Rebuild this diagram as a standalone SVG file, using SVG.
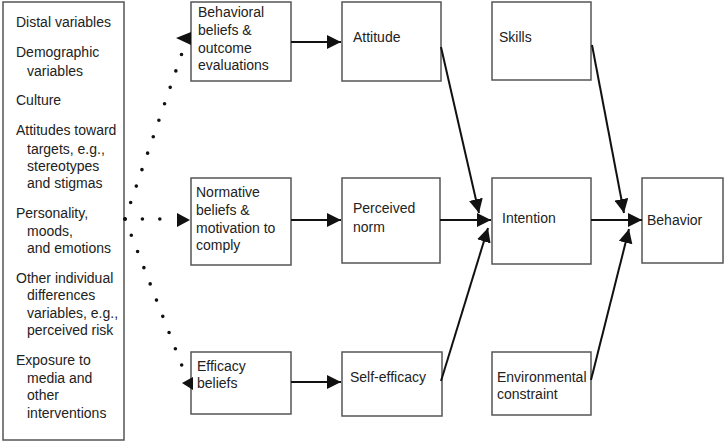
<svg xmlns="http://www.w3.org/2000/svg" width="725" height="442" viewBox="0 0 725 442">
<defs>
<style>
.box{fill:#fff;stroke:#555;stroke-width:1.5}
.t{font-family:"Liberation Sans",Arial,sans-serif;font-size:14px;fill:#222}
.ln{fill:none;stroke:#111;stroke-width:2}
.dot{fill:none;stroke:#111;stroke-width:3.6;stroke-linecap:round;stroke-dasharray:0 17.4}
.ah{fill:#111}
</style>
<marker id="arr" viewBox="0 0 14 14" refX="14" refY="7" markerWidth="14" markerHeight="14" markerUnits="userSpaceOnUse" orient="auto">
<path d="M0,0 L14,7 L0,14 z" fill="#111"/>
</marker>
</defs>
<rect width="725" height="442" fill="#fff"/>

<g id="distal">
<rect class="box" x="3" y="2" width="121" height="438"/>
<text class="t" x="16" y="27">Distal variables</text>
<text class="t" x="16" y="57">Demographic</text>
<text class="t" x="27" y="76">variables</text>
<text class="t" x="16" y="105">Culture</text>
<text class="t" x="16" y="135">Attitudes toward</text>
<text class="t" x="27" y="154">targets, e.g.,</text>
<text class="t" x="27" y="171">stereotypes</text>
<text class="t" x="27" y="188">and stigmas</text>
<text class="t" x="16" y="218">Personality,</text>
<text class="t" x="27" y="236">moods,</text>
<text class="t" x="27" y="253">and emotions</text>
<text class="t" x="16" y="283">Other individual</text>
<text class="t" x="27" y="300">differences</text>
<text class="t" x="27" y="318">variables, e.g.,</text>
<text class="t" x="27" y="335">perceived risk</text>
<text class="t" x="16" y="365">Exposure to</text>
<text class="t" x="27" y="383">media and</text>
<text class="t" x="27" y="400">other</text>
<text class="t" x="27" y="418">interventions</text>
</g>

<g id="behavioral">
<rect class="box" x="191" y="2" width="100" height="79"/>
<text class="t" x="198" y="17">Behavioral</text>
<text class="t" x="198" y="35">beliefs &amp;</text>
<text class="t" x="198" y="53">outcome</text>
<text class="t" x="198" y="70">evaluations</text>
</g>

<g id="normative">
<rect class="box" x="191" y="178" width="100" height="87"/>
<text class="t" x="196" y="197">Normative</text>
<text class="t" x="196" y="215">beliefs &amp;</text>
<text class="t" x="196" y="233">motivation to</text>
<text class="t" x="196" y="250">comply</text>
</g>

<g id="efficacy">
<rect class="box" x="191" y="352" width="100" height="62"/>
<text class="t" x="197" y="371">Efficacy</text>
<text class="t" x="197" y="388">beliefs</text>
</g>

<g id="attitude">
<rect class="box" x="342" y="2" width="99" height="79"/>
<text class="t" x="353" y="42">Attitude</text>
</g>

<g id="norm">
<rect class="box" x="342" y="178" width="98" height="85"/>
<text class="t" x="353" y="213">Perceived</text>
<text class="t" x="353" y="232">norm</text>
</g>

<g id="selfefficacy">
<rect class="box" x="342" y="352" width="100" height="64"/>
<text class="t" x="350" y="382">Self-efficacy</text>
</g>

<g id="skills">
<rect class="box" x="492" y="2" width="99" height="78"/>
<text class="t" x="499" y="42">Skills</text>
</g>

<g id="intention">
<rect class="box" x="492" y="178" width="99" height="86"/>
<text class="t" x="502" y="223">Intention</text>
</g>

<g id="environment">
<rect class="box" x="492" y="352" width="99" height="63"/>
<text class="t" x="497" y="382">Environmental</text>
<text class="t" x="497" y="399">constraint</text>
</g>

<g id="behavior">
<rect class="box" x="642" y="178" width="81" height="85"/>
<text class="t" x="647" y="225">Behavior</text>
</g>

<g id="connectors">
<path class="dot" d="M125,219 L182,53"/>
<path class="dot" d="M125,219 L172,219"/>
<path class="dot" d="M125,219 L184,371"/>
<polygon class="ah" points="176,38 191,32 191,45"/>
<polygon class="ah" points="177,213 190,220 177,227"/>
<polygon class="ah" points="182,383 193,377 193,390"/>

<line class="ln" x1="291" y1="42" x2="341" y2="42" marker-end="url(#arr)"/>
<line class="ln" x1="291" y1="220" x2="341" y2="220" marker-end="url(#arr)"/>
<line class="ln" x1="291" y1="382" x2="341" y2="382" marker-end="url(#arr)"/>

<line class="ln" x1="441" y1="47" x2="479" y2="213" marker-end="url(#arr)"/>
<line class="ln" x1="440" y1="220" x2="491" y2="220" marker-end="url(#arr)"/>
<line class="ln" x1="441" y1="381" x2="488" y2="228" marker-end="url(#arr)"/>

<line class="ln" x1="591" y1="220" x2="642" y2="220" marker-end="url(#arr)"/>
<line class="ln" x1="592" y1="45" x2="624" y2="213" marker-end="url(#arr)"/>
<line class="ln" x1="591" y1="380" x2="629" y2="229" marker-end="url(#arr)"/>
</g>
</svg>
